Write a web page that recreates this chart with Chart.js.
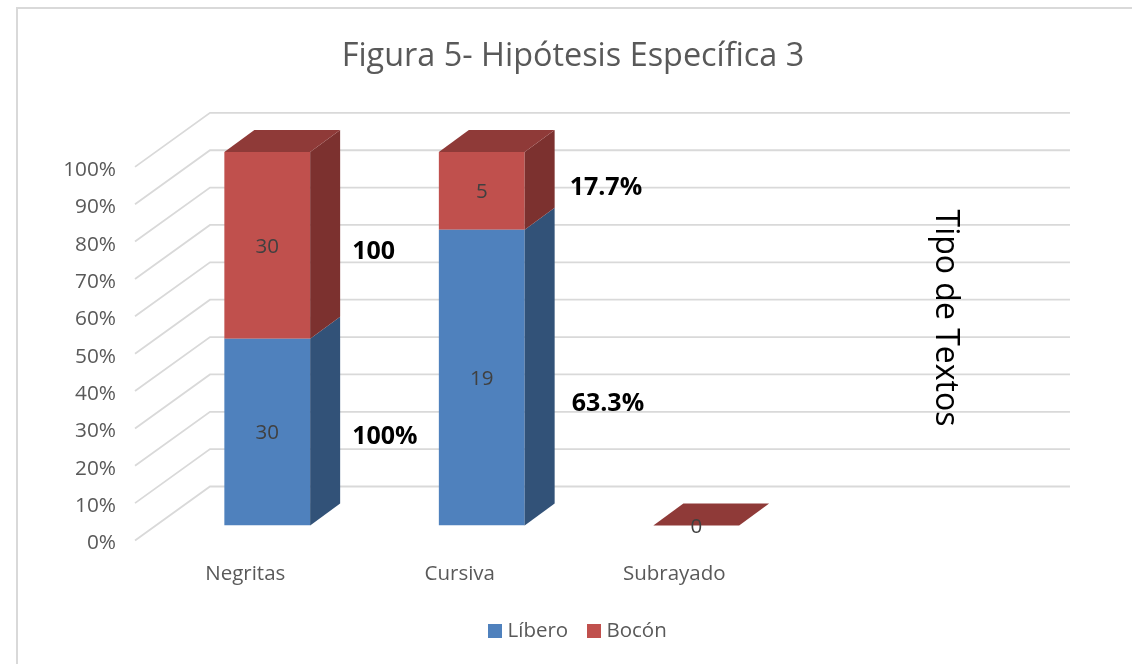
<!DOCTYPE html>
<html><head><meta charset="utf-8">
<style>html,body{margin:0;padding:0;background:#fff}#w{width:1132px;height:664px;position:relative}</style>
<script src="https://cdn.jsdelivr.net/npm/chart.js@4"></script>
</head><body><div id="w"><canvas id="c" width="1132" height="664"></canvas></div>
<script>
const categories = ['Negritas','Cursiva','Subrayado',''];
const libero = [30,19,0,null];
const bocon = [30,5,0,null];
const yTicks = [0,10,20,30,40,50,60,70,80,90,100];
const noteCats = [0,0,1,1];
const notePcts = [24.1,73.5,32.7,90.6];
const noteTexts = ['100%','100','63.3%','17.7%'];
const noteOffsets = [42,42,47,45];
const sideTitle = 'Tipo de Textos';
const FONT = '"Open Sans", sans-serif';
const GREY='#595959';
const WALL={dx:75,dy:-54,front:15};
const BAR={dx:30,dy:-22};
const COLORS=['#4f81bd','#c0504d'];

// 100% stacked: each segment drawn as its share of the stack total
function share(a,b){return a.map((v,i)=>{
  if(v==null)return null;
  const t=v+b[i];return t?v/t*100:0;});}

function poly(ctx,pts,fill){ctx.beginPath();pts.forEach((p,i)=>i?ctx.lineTo(p[0],p[1]):ctx.moveTo(p[0],p[1]));ctx.closePath();ctx.fillStyle=fill;ctx.fill();}

function swatch(color){const c=document.createElement('canvas');c.width=14;c.height=14;const g=c.getContext('2d');g.fillStyle=color;g.fillRect(0,0,14,14);return c;}
const swatches=COLORS.map(swatch);

const wall={id:'wall',afterLayout(chart){
  if(chart.legend){chart.legend.left+=7;chart.legend.right+=7;}
},beforeDatasetsDraw(chart){
  const {ctx,scales:{x,y}}=chart;
  ctx.save();ctx.strokeStyle='#d9d9d9';ctx.lineWidth=1.8;
  const backRight=1070, backLeft=x.left+50;
  yTicks.forEach(v=>{
    const py=y.getPixelForValue(v)+WALL.front;
    ctx.beginPath();
    ctx.moveTo(backLeft-WALL.dx,py);
    ctx.lineTo(backLeft,py+WALL.dy);
    ctx.lineTo(backRight,py+WALL.dy);
    ctx.stroke();
  });
  ctx.restore();
}};

const faces={id:'faces',afterDatasetsDraw(chart){
  const {ctx,scales:{y}}=chart;
  const m0=chart.getDatasetMeta(0),m1=chart.getDatasetMeta(1);
  const raw=[libero,bocon];
  const cols=[{side:'#325278'},{side:'#7c312f',top:'#8f3a38'}];
  ctx.save();
  [m0,m1].forEach((m,di)=>{
    m.data.forEach((b,i)=>{
      if(raw[di][i]==null)return;
      const r=b.x+b.width/2,t=b.y,bt=b.base;
      if(bt-t>0.5) poly(ctx,[[r,t],[r+BAR.dx,t+BAR.dy],[r+BAR.dx,bt+BAR.dy],[r,bt]],cols[di].side);
    });
  });
  m1.data.forEach((b,i)=>{
    if(raw[1][i]==null)return;
    const l=b.x-b.width/2,r=b.x+b.width/2,t=b.y;
    poly(ctx,[[l,t],[l+BAR.dx,t+BAR.dy],[r+BAR.dx,t+BAR.dy],[r,t]],cols[1].top);
  });
  ctx.font='20.5px '+FONT;ctx.fillStyle='#404040';ctx.textAlign='center';ctx.textBaseline='middle';
  [m0,m1].forEach((m,di)=>{
    m.data.forEach((b,i)=>{
      const v=raw[di][i];
      if(v==null||(di===0&&v===0))return;
      ctx.fillText(String(v),b.x,(b.y+b.base)/2+1.5);
    });
  });
  ctx.font='bold 25px '+FONT;ctx.fillStyle='#000';ctx.textAlign='left';
  noteTexts.forEach((t,i)=>{
    const b=m0.data[noteCats[i]];
    ctx.fillText(t,b.x+b.width/2+noteOffsets[i],y.getPixelForValue(notePcts[i])+1);
  });
  ctx.save();ctx.translate(945,318);ctx.rotate(Math.PI/2);
  ctx.font='32px '+FONT;ctx.fillStyle='#000';ctx.textAlign='center';ctx.textBaseline='middle';
  ctx.fillText(sideTitle,0,0);ctx.restore();
  ctx.strokeStyle='#d9d9d9';ctx.lineWidth=2;
  ctx.beginPath();ctx.moveTo(17,664);ctx.lineTo(17,8);ctx.lineTo(1132,8);ctx.stroke();
  ctx.restore();
}};

new Chart(document.getElementById('c'),{
  type:'bar',
  data:{labels:categories,datasets:[
    {label:'Líbero',data:share(libero,bocon),backgroundColor:COLORS[0],stack:'s',barPercentage:0.8,categoryPercentage:0.5},
    {label:'Bocón',data:share(bocon,libero),backgroundColor:COLORS[1],stack:'s',barPercentage:0.8,categoryPercentage:0.5}
  ]},
  plugins:[wall,faces],
  options:{
    responsive:false,animation:false,
    layout:{padding:{left:14,right:0,top:0,bottom:13}},
    plugins:{
      title:{display:true,text:'Figura 5- Hipótesis Específica 3',color:GREY,font:{family:FONT,size:32.4,weight:'normal'},padding:{top:37,bottom:76}},
      legend:{position:'bottom',labels:{color:GREY,font:{family:FONT,size:20.5},usePointStyle:true,pointStyleWidth:4,boxHeight:14,padding:24,
        generateLabels(chart){return chart.data.datasets.map((d,i)=>({text:d.label,fontColor:GREY,pointStyle:swatches[i],datasetIndex:i,hidden:false,lineWidth:0}));}}},
      tooltip:{enabled:false}
    },
    scales:{
      x:{stacked:true,grid:{display:false},border:{display:false},
        afterFit(s){s.height=71;},
        ticks:{color:GREY,font:{family:FONT,size:20.5},padding:28,labelOffset:-22,maxRotation:0}},
      y:{stacked:true,min:0,max:100,border:{display:false},grid:{display:false,drawTicks:false},
        afterFit(s){s.width=146;},
        ticks:{stepSize:10,color:GREY,font:{family:FONT,size:20.8},padding:44,labelOffset:18,callback:v=>v+'%'}},
      yr:{position:'right',min:0,max:100,border:{display:false},grid:{display:false,drawTicks:false},
        afterFit(s){s.width=114;},
        ticks:{display:false}}
    }
  }
});
</script></body></html>
